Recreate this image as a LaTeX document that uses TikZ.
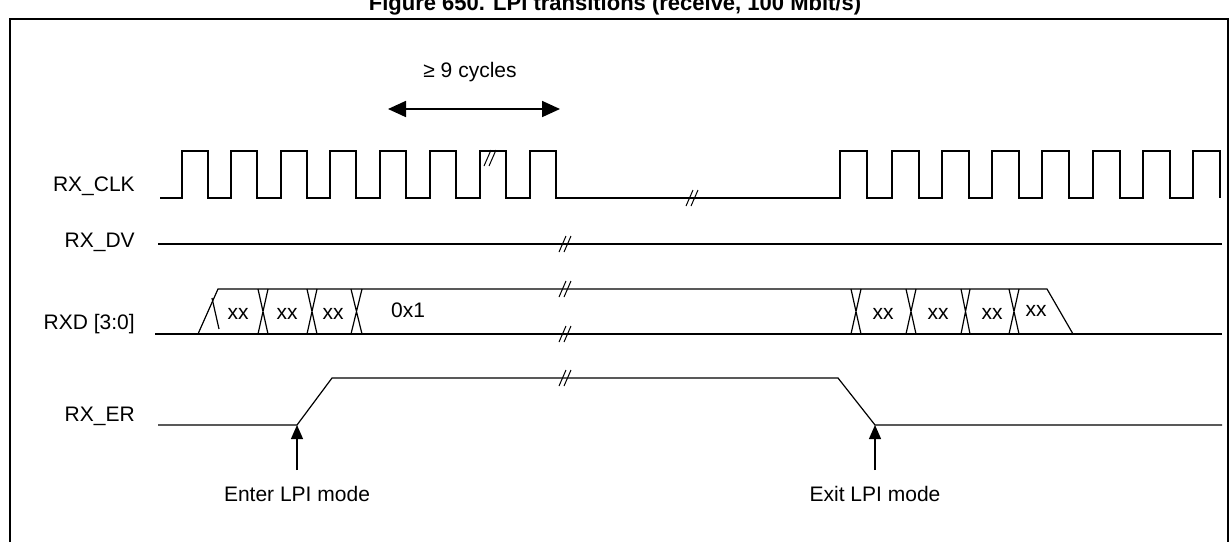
\documentclass[tikz,border=0pt]{standalone}
\usepackage{fontspec}
\setmainfont{Liberation Sans}
\usetikzlibrary{arrows.meta}
\begin{document}
\begin{tikzpicture}[x=0.5pt,y=-0.5pt,line width=0.6pt,
  lbl/.style={font=\fontsize{10.5pt}{12pt}\selectfont},
  sig/.style={anchor=east,font=\fontsize{10.5pt}{12pt}\selectfont},
  brk/.pic={\draw[line width=0.5pt] (-6,8)--(1,-8) (-1,8)--(6,-8);},
  arr/.style={-{Triangle[width=6pt,length=7pt]},line width=0.6pt}]
\useasboundingbox (0,0) rectangle (1230,542);
\node[font=\bfseries\fontsize{11pt}{13pt}\selectfont] (title) at (615,5) {Figure 650. LPI transitions (receive, 100 Mbit/s)};
\draw[line width=0.9pt] (10,542) -- (10,19) -- (1228,19) -- (1228,542);
% labels
\node[sig] (lclk) at (142,186) {RX\_CLK};
\node[sig] (ldv) at (142,242) {RX\_DV};
\node[sig] (lrxd) at (142,324) {RXD [3:0]};
\node[sig] (ler) at (142,416) {RX\_ER};
% clock
\draw (160,198) -- (182,198)
  \foreach \r in {182,231,281,330,380,430,480,530} {-- (\r,198) -- (\r,151) -- (\r+26,151) -- (\r+26,198)}
  -- (840,198)
  \foreach \r in {840,892,942,992,1042,1093,1143,1193} {-- (\r,198) -- (\r,151) -- (\r+27,151) -- (\r+27,198)};
\pic at (490,158) {brk};
\pic at (692,198) {brk};
% cycles arrow
\node[lbl] (cyc) at (470,72) {≥ 9 cycles};
\coordinate (ca) at (388,109);
\coordinate (cb) at (560,109);
\draw[{Triangle[width=8pt,length=9pt]}-{Triangle[width=8pt,length=9pt]},line width=0.9pt] (ca) -- (cb);
% RX_DV
\draw (158,244) -- (1222,244);
\pic at (565,244) {brk};
% RXD
\draw (155,334) -- (1222,334);
\draw (198,334) -- (218,289) -- (1047,289) -- (1073,334);
\draw (212,298) -- (219,329);
\foreach \a/\b in {258/268,307/317,351/362,851/861,906/916,961/970,1009/1019}{
  \draw (\a,289) -- (\b,334) (\b,289) -- (\a,334);}
\pic at (565,289) {brk};
\pic at (565,334) {brk};
\foreach \x/\t/\y in {238/xx/314,287/xx/314,333/xx/314,408/0x1/310,883/xx/314,938/xx/314,992/xx/314,1036/xx/311}
  \node[lbl] at (\x,\y) {\t};
% RX_ER
\draw (158,425) -- (297,425) -- (332,378) -- (838,378) -- (875,425) -- (1222,425);
\pic at (565,378) {brk};
\coordinate (en) at (297,425);
\coordinate (ex) at (875,425);
\node[lbl] (ent) at (297,494) {Enter LPI mode};
\node[lbl] (ext) at (875,494) {Exit LPI mode};
\draw[arr] (297,470) -- (en);
\draw[arr] (875,470) -- (ex);
\end{tikzpicture}
\end{document}
